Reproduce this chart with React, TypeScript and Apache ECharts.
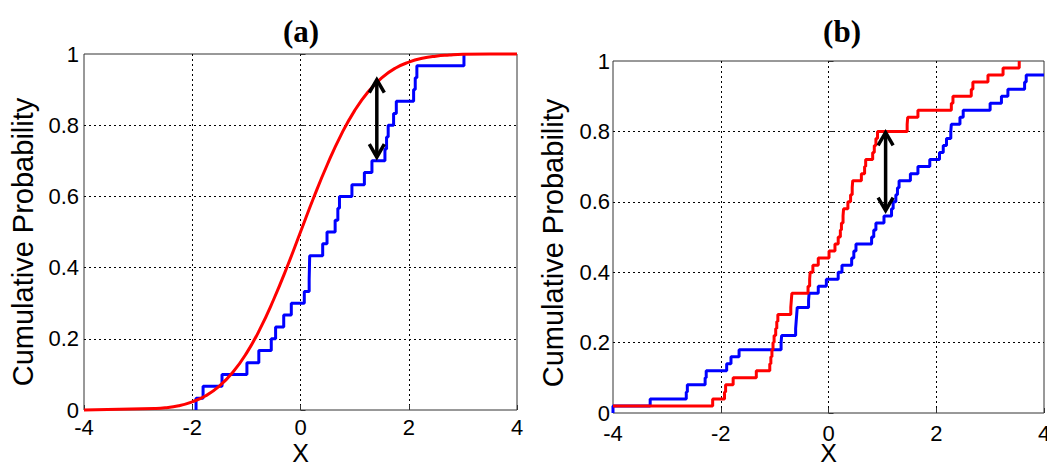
import React, { useEffect, useRef } from "react";
import * as echarts from "echarts";

// ---- Panel (a): empirical CDF (blue) vs. theoretical CDF (red) ----
const blueAX = [-1.93, -1.93, -1.8, -1.45, -0.99, -0.77, -0.54, -0.46, -0.31, -0.17, 0.07, 0.16, 0.165, 0.17, 0.41, 0.49, 0.64, 0.69, 0.72, 0.95, 1.18, 1.32, 1.56, 1.59, 1.62, 1.72, 1.77, 2.09, 2.12, 2.15, 3.02];
const blueAY = [0, 0.033, 0.067, 0.1, 0.133, 0.167, 0.2, 0.233, 0.267, 0.3, 0.333, 0.367, 0.4, 0.433, 0.467, 0.5, 0.533, 0.567, 0.6, 0.633, 0.667, 0.7, 0.733, 0.767, 0.8, 0.833, 0.867, 0.9, 0.933, 0.967, 1];
const redAX = [-4, -2.7, -2.5, -2.25, -2, -1.75, -1.5, -1.25, -1, -0.75, -0.5, -0.25, 0, 0.25, 0.5, 0.75, 1, 1.25, 1.5, 1.75, 2, 2.25, 2.5, 2.75, 3, 3.5, 4];
const redAY = [0, 0.004, 0.006, 0.012, 0.023, 0.04, 0.067, 0.106, 0.159, 0.227, 0.309, 0.401, 0.5, 0.599, 0.691, 0.773, 0.841, 0.894, 0.933, 0.96, 0.977, 0.988, 0.994, 0.997, 0.999, 1, 1];
const arrowA = [1.41, 0.928, 0.71];

// ---- Panel (b): two empirical CDFs ----
const blueBX = [-4, -4, -3.31, -2.64, -2.62, -2.29, -2.27, -1.89, -1.81, -1.66, -0.88, -0.87, -0.61, -0.6, -0.59, -0.58, -0.37, -0.36, -0.19, -0.04, 0.18, 0.25, 0.43, 0.47, 0.51, 0.8, 0.84, 0.88, 1.03, 1.17, 1.2, 1.25, 1.28, 1.31, 1.52, 1.66, 1.88, 2.06, 2.13, 2.19, 2.27, 2.28, 2.44, 2.5, 3.0, 3.21, 3.33, 3.64, 3.67, 4];
const blueBY = [0, 0.02, 0.04, 0.06, 0.08, 0.1, 0.12, 0.14, 0.16, 0.18, 0.2, 0.22, 0.24, 0.26, 0.28, 0.3, 0.32, 0.34, 0.36, 0.38, 0.4, 0.42, 0.44, 0.46, 0.48, 0.5, 0.52, 0.54, 0.56, 0.58, 0.6, 0.62, 0.64, 0.66, 0.68, 0.7, 0.72, 0.74, 0.76, 0.78, 0.8, 0.82, 0.84, 0.86, 0.88, 0.9, 0.92, 0.94, 0.96, 0.96];
const redBX = [-4, -2.15, -1.93, -1.91, -1.77, -1.34, -1.09, -1.07, -1.05, -1.03, -1.01, -0.98, -0.96, -0.94, -0.7, -0.69, -0.68, -0.38, -0.35, -0.34, -0.29, -0.19, 0.01, 0.12, 0.18, 0.22, 0.24, 0.27, 0.28, 0.36, 0.41, 0.44, 0.45, 0.61, 0.67, 0.69, 0.82, 0.85, 0.88, 0.91, 1.46, 1.47, 1.66, 2.28, 2.31, 2.65, 2.68, 2.96, 3.24, 3.54];
const redBY = [0.02, 0.04, 0.06, 0.08, 0.1, 0.12, 0.14, 0.16, 0.18, 0.2, 0.22, 0.24, 0.26, 0.28, 0.3, 0.32, 0.34, 0.36, 0.38, 0.4, 0.42, 0.44, 0.46, 0.48, 0.5, 0.52, 0.54, 0.56, 0.58, 0.6, 0.62, 0.64, 0.66, 0.68, 0.7, 0.72, 0.74, 0.76, 0.78, 0.8, 0.82, 0.84, 0.86, 0.88, 0.9, 0.92, 0.94, 0.96, 0.98, 1.0];
const arrowB = [1.06, 0.797, 0.575];

const panelTitles = ["(a)", "(b)"];
const xName = "X";
const yName = "Cumulative Probability";

const SANS = '"Liberation Sans", Arial, Helvetica, sans-serif';
const SERIF = '"Liberation Serif", "Times New Roman", serif';

const zip = (xs: number[], ys: number[]) => xs.map((x, i) => [x, ys[i]]);

const arrowRender = (_params: any, api: any) => {
  const x = api.value(0);
  const a = api.coord([x, api.value(1)]);
  const b = api.coord([x, api.value(2)]);
  const hw = 7.5;
  const hh = 13;
  const style = { stroke: "#000", lineWidth: 3.5, fill: null };
  return {
    type: "group",
    children: [
      { type: "line", shape: { x1: a[0], y1: a[1] + 1, x2: b[0], y2: b[1] - 1 }, style },
      { type: "polyline", shape: { points: [[a[0] - hw, a[1] + hh], [a[0], a[1]], [a[0] + hw, a[1] + hh]] }, style },
      { type: "polyline", shape: { points: [[b[0] - hw, b[1] - hh], [b[0], b[1]], [b[0] + hw, b[1] - hh]] }, style },
    ],
  };
};

const gridLine = { show: true, showMinLine: false, showMaxLine: false, lineStyle: { color: "#000", type: [2, 3], width: 1 } };

const makeX = (gridIndex: number, margin: number, nameGap: number) => ({
  type: "value",
  gridIndex,
  min: -4,
  max: 4,
  interval: 2,
  name: xName,
  nameLocation: "middle",
  nameGap,
  nameMoveOverlap: false,
  nameTextStyle: { fontFamily: SANS, fontSize: 25, lineHeight: 22, color: "#000" },
  axisLine: { show: false },
  axisTick: { show: true, inside: true, length: 5, lineStyle: { color: "#333" } },
  axisLabel: { fontFamily: SANS, fontSize: 22, lineHeight: 16, color: "#000", margin },
  splitLine: gridLine,
});

const makeY = (gridIndex: number, margin: number) => ({
  type: "value",
  gridIndex,
  min: 0,
  max: 1,
  interval: 0.2,
  axisLine: { show: false },
  axisTick: { show: true, inside: true, length: 5, lineStyle: { color: "#333" } },
  axisLabel: { fontFamily: SANS, fontSize: 22, lineHeight: 16, color: "#000", margin },
  splitLine: gridLine,
});

const stepLine = (name: string, data: number[][], color: string, idx: number, z: number) => ({
  type: "line",
  name,
  step: "end",
  xAxisIndex: idx,
  yAxisIndex: idx,
  data,
  showSymbol: false,
  symbol: "none",
  lineStyle: { color, width: 3 },
  clip: false,
  z,
});

const yNameText = (x: number, y: number) => ({
  type: "text",
  x,
  y,
  rotation: Math.PI / 2,
  style: { text: yName, fontFamily: SANS, fontSize: 29, fill: "#000", align: "center", verticalAlign: "middle" },
});

const titleText = (text: string, x: number) => ({
  type: "text",
  x,
  y: 31,
  style: { text, fontFamily: SERIF, fontWeight: "bold", fontSize: 31, fill: "#000", align: "center", verticalAlign: "middle" },
});

export default function App() {
  const ref = useRef<HTMLDivElement>(null);
  useEffect(() => {
    if (!ref.current) return;
    const chart = echarts.init(ref.current, undefined, { renderer: "svg" });
    chart.setOption({
      animation: false,
      backgroundColor: "#fff",
      graphic: [
        titleText(panelTitles[0], 301),
        titleText(panelTitles[1], 842),
        yNameText(23, 242),
        yNameText(553, 243),
      ],
      grid: [
        { left: 84, top: 54, width: 433, height: 356, outerBoundsMode: "none", containLabel: false, show: true, borderColor: "#333", borderWidth: 1, backgroundColor: "transparent" },
        { left: 613, top: 61, width: 431, height: 352, outerBoundsMode: "none", containLabel: false, show: true, borderColor: "#333", borderWidth: 1, backgroundColor: "transparent" },
      ],
      xAxis: [makeX(0, 9, 32), makeX(1, 12, 29)],
      yAxis: [makeY(0, 5), makeY(1, 3)],
      series: [
        stepLine("Empirical (a)", zip(blueAX, blueAY), "#0000ff", 0, 3),
        {
          type: "line",
          name: "Theoretical (a)",
          xAxisIndex: 0,
          yAxisIndex: 0,
          data: zip(redAX, redAY),
          smooth: true,
          showSymbol: false,
          symbol: "none",
          lineStyle: { color: "#ff0000", width: 3 },
          clip: false,
          z: 4,
        },
        stepLine("Sample 1 (b)", zip(blueBX, blueBY), "#0000ff", 1, 3),
        stepLine("Sample 2 (b)", zip(redBX, redBY), "#ff0000", 1, 4),
        { type: "custom", xAxisIndex: 0, yAxisIndex: 0, data: [arrowA], encode: { x: 0, y: [1, 2] }, renderItem: arrowRender, z: 6 },
        { type: "custom", xAxisIndex: 1, yAxisIndex: 1, data: [arrowB], encode: { x: 0, y: [1, 2] }, renderItem: arrowRender, z: 6 },
      ],
    });
    return () => chart.dispose();
  }, []);
  return <div ref={ref} style={{ position: "fixed", left: 0, top: 0, width: 1047, height: 467 }} />;
}
